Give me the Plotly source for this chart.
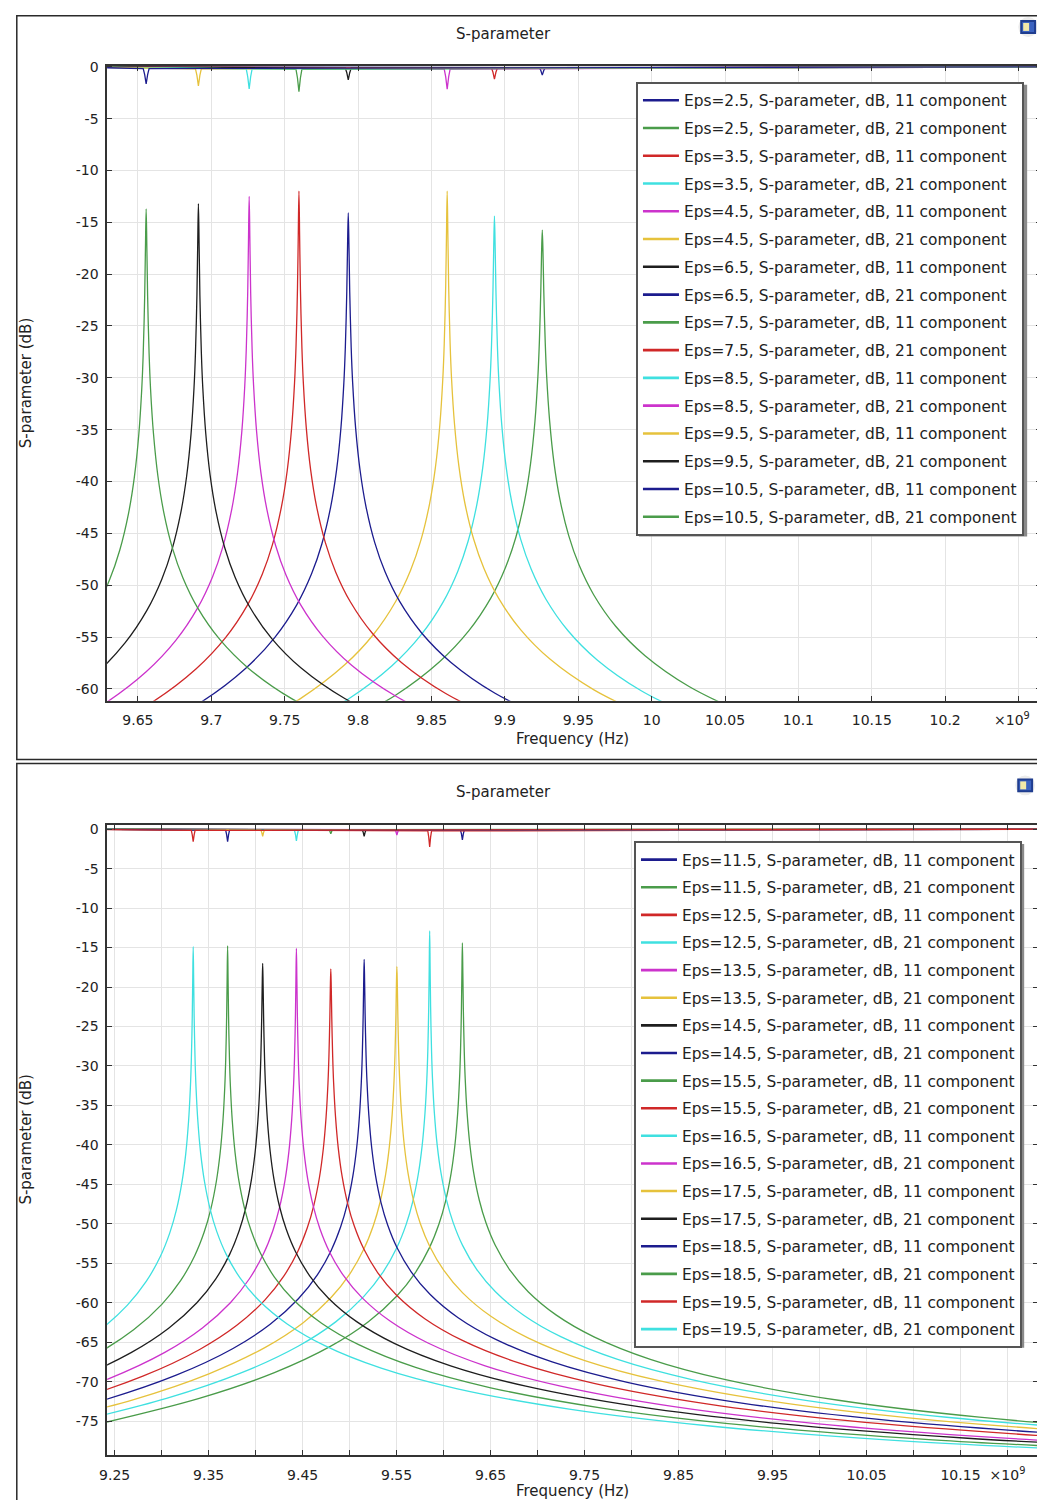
import plotly.graph_objects as go

# ---------------- colours (COMSOL default cycle) ----------------
CYCLE = ["#1c1c8e", "#4a9c4a", "#d02828", "#3fe0e0", "#cc33cc", "#e6c23c", "#1e1e1e"]

# ---------------- top panel data (frequency in GHz, i.e. x10^9 Hz) ----------------
TOP_EPS = ["2.5", "3.5", "4.5", "6.5", "7.5", "8.5", "9.5", "10.5"]
TOP_RESONANCE_GHZ = [9.9255, 9.8929, 9.8607, 9.7933, 9.7597, 9.7258, 9.6912, 9.6556]
TOP_SWEEP_GHZ = [9.60, 10.30]
TOP_DETUNING_GHZ = [-0.14, -0.1, -0.07, -0.05, -0.035, -0.025, -0.018, -0.012, -0.008, -0.005,
                    -0.003, -0.002, -0.001, -0.0005, 0, 0.0005, 0.001, 0.002, 0.003,
                    0.005, 0.008, 0.012, 0.018, 0.025, 0.035, 0.05, 0.07, 0.1, 0.14]

S21_TOP_EPS2_5 = [-63.70, -60.61, -57.38, -54.38, -51.22, -48.26, -45.38, -41.82, -38.28, -34.19, -29.90, -26.58, -21.52, -18.04, -15.75, -18.04, -21.52, -26.58, -29.90, -34.15, -38.22, -41.72, -45.22, -48.04, -50.92, -53.96, -56.80, -59.77, -62.52]
S21_TOP_EPS3_5 = [-64.11, -61.02, -57.79, -54.79, -51.63, -48.67, -45.79, -42.23, -38.69, -34.60, -30.25, -26.87, -21.53, -17.50, -14.4, -17.50, -21.53, -26.87, -30.25, -34.56, -38.63, -42.13, -45.63, -48.45, -51.33, -54.37, -57.21, -60.18, -62.93]
S21_TOP_EPS4_5 = [-64.03, -60.94, -57.71, -54.71, -51.55, -48.59, -45.71, -42.15, -38.61, -34.52, -30.13, -26.69, -21.09, -16.44, -12.0, -16.44, -21.09, -26.69, -30.13, -34.48, -38.55, -42.05, -45.55, -48.37, -51.25, -54.29, -57.13, -60.10, -62.85]
S21_TOP_EPS6_5 = [-64.35, -61.26, -58.03, -55.03, -51.87, -48.91, -46.03, -42.47, -38.93, -34.84, -30.49, -27.09, -21.68, -17.49, -14.1, -17.49, -21.68, -27.09, -30.49, -34.80, -38.87, -42.37, -45.87, -48.69, -51.57, -54.61, -57.45, -60.42, -63.17]
S21_TOP_EPS7_5 = [-64.38, -61.29, -58.06, -55.06, -51.90, -48.94, -46.06, -42.50, -38.96, -34.87, -30.48, -27.03, -21.40, -16.67, -12.0, -16.67, -21.40, -27.03, -30.48, -34.83, -38.90, -42.40, -45.90, -48.72, -51.60, -54.64, -57.48, -60.45, -63.20]
S21_TOP_EPS8_5 = [-64.65, -61.56, -58.33, -55.33, -52.17, -49.21, -46.33, -42.77, -39.23, -35.14, -30.74, -27.30, -21.69, -17.01, -12.5, -17.01, -21.69, -27.30, -30.74, -35.10, -39.17, -42.67, -46.17, -48.99, -51.87, -54.91, -57.75, -60.72, -63.47]
S21_TOP_EPS9_5 = [-64.89, -61.80, -58.57, -55.57, -52.41, -49.45, -46.57, -43.01, -39.47, -35.38, -30.99, -27.56, -21.99, -17.42, -13.2, -17.42, -21.99, -27.56, -30.99, -35.34, -39.41, -42.91, -46.41, -49.23, -52.11, -55.15, -57.99, -60.96, -63.71]
S21_TOP_EPS10_5 = [-64.95, -61.86, -58.63, -55.63, -52.47, -49.51, -46.63, -43.07, -39.53, -35.44, -31.07, -27.64, -22.12, -17.66, -13.7, -17.66, -22.12, -27.64, -31.07, -35.40, -39.47, -42.97, -46.47, -49.29, -52.17, -55.21, -58.05, -61.02, -63.77]
TOP_S21 = [S21_TOP_EPS2_5, S21_TOP_EPS3_5, S21_TOP_EPS4_5, S21_TOP_EPS6_5,
           S21_TOP_EPS7_5, S21_TOP_EPS8_5, S21_TOP_EPS9_5, S21_TOP_EPS10_5]

S11_DIP_DETUNING_GHZ = [-0.002, -0.001, 0, 0.001, 0.002]
S11_TOP_DIPS = [
    [-0.08, -0.36, -0.80, -0.36, -0.08],   # 2.5
    [-0.12, -0.53, -1.18, -0.53, -0.12],   # 3.5
    [-0.22, -0.98, -2.17, -0.98, -0.22],   # 4.5
    [-0.13, -0.57, -1.27, -0.57, -0.13],   # 6.5
    [-0.24, -1.08, -2.39, -1.08, -0.24],   # 7.5
    [-0.21, -0.96, -2.13, -0.96, -0.21],   # 8.5
    [-0.19, -0.83, -1.85, -0.83, -0.19],   # 9.5
    [-0.17, -0.75, -1.66, -0.75, -0.17],   # 10.5
]

# ---------------- bottom panel data ----------------
BOT_EPS = ["11.5", "12.5", "13.5", "14.5", "15.5", "16.5", "17.5", "18.5", "19.5"]
BOT_RESONANCE_GHZ = [9.620, 9.5852, 9.5503, 9.5155, 9.480, 9.4434, 9.4075, 9.3702, 9.3336]
BOT_SWEEP_GHZ = [9.20, 10.30]
BOT_DETUNING_GHZ = [-0.4, -0.28, -0.2, -0.14, -0.1, -0.07, -0.05, -0.035, -0.025, -0.018, -0.012, -0.008, -0.005,
                    -0.003, -0.002, -0.001, -0.0005, 0, 0.0005, 0.001, 0.002, 0.003,
                    0.005, 0.008, 0.012, 0.018, 0.025, 0.035, 0.05, 0.07, 0.1, 0.14, 0.2, 0.28, 0.4, 0.55, 0.75, 0.95]

S21_BOT_EPS11_5 = [-75.70, -72.10, -68.84, -65.49, -62.40, -59.17, -56.17, -53.01, -50.05, -47.17, -43.61, -40.07, -35.98, -31.60, -28.18, -22.68, -18.26, -14.4, -18.26, -22.68, -28.18, -31.60, -35.94, -40.01, -43.51, -47.01, -49.83, -52.71, -55.75, -58.59, -61.56, -64.31, -67.16, -69.74, -72.34, -74.48, -76.33, -77.54]
S21_BOT_EPS12_5 = [-75.71, -72.11, -68.85, -65.50, -62.41, -59.18, -56.18, -53.02, -50.06, -47.18, -43.62, -40.08, -35.99, -31.60, -28.15, -22.50, -17.71, -12.9, -17.71, -22.50, -28.15, -31.60, -35.95, -40.02, -43.52, -47.02, -49.84, -52.72, -55.76, -58.60, -61.57, -64.32, -67.17, -69.75, -72.35, -74.49, -76.34, -77.55]
S21_BOT_EPS13_5 = [-75.85, -72.25, -68.99, -65.64, -62.55, -59.32, -56.32, -53.16, -50.20, -47.32, -43.76, -40.22, -36.13, -31.83, -28.50, -23.39, -19.81, -17.4, -19.81, -23.39, -28.50, -31.83, -36.09, -40.16, -43.66, -47.16, -49.98, -52.86, -55.90, -58.74, -61.71, -64.46, -67.31, -69.89, -72.49, -74.63, -76.48, -77.69]
S21_BOT_EPS14_5 = [-76.02, -72.42, -69.16, -65.81, -62.72, -59.49, -56.49, -53.33, -50.37, -47.49, -43.93, -40.39, -36.30, -31.97, -28.60, -23.31, -19.40, -16.5, -19.40, -23.31, -28.60, -31.97, -36.26, -40.33, -43.83, -47.33, -50.15, -53.03, -56.07, -58.91, -61.88, -64.63, -67.48, -70.06, -72.66, -74.80, -76.65, -77.86]
S21_BOT_EPS15_5 = [-76.15, -72.55, -69.29, -65.94, -62.85, -59.62, -56.62, -53.46, -50.50, -47.62, -44.06, -40.52, -36.43, -32.13, -28.80, -23.69, -20.11, -17.7, -20.11, -23.69, -28.80, -32.13, -36.39, -40.46, -43.96, -47.46, -50.28, -53.16, -56.20, -59.04, -62.01, -64.76, -67.61, -70.19, -72.79, -74.93, -76.78, -77.99]
S21_BOT_EPS16_5 = [-76.48, -72.88, -69.62, -66.27, -63.18, -59.95, -56.95, -53.79, -50.83, -47.95, -44.39, -40.85, -36.76, -32.38, -28.96, -23.45, -19.01, -15.1, -19.01, -23.45, -28.96, -32.38, -36.72, -40.79, -44.29, -47.79, -50.61, -53.49, -56.53, -59.37, -62.34, -65.09, -67.94, -70.52, -73.12, -75.26, -77.11, -78.32]
S21_BOT_EPS17_5 = [-76.52, -72.92, -69.66, -66.31, -63.22, -59.99, -56.99, -53.83, -50.87, -47.99, -44.43, -40.89, -36.80, -32.47, -29.10, -23.81, -19.90, -17.0, -19.90, -23.81, -29.10, -32.47, -36.76, -40.83, -44.33, -47.83, -50.65, -53.53, -56.57, -59.41, -62.38, -65.13, -67.98, -70.56, -73.16, -75.30, -77.15, -78.36]
S21_BOT_EPS18_5 = [-76.72, -73.12, -69.86, -66.51, -63.42, -60.19, -57.19, -54.03, -51.07, -48.19, -44.63, -41.09, -37.00, -32.62, -29.18, -23.61, -19.04, -14.8, -19.04, -23.61, -29.18, -32.62, -36.96, -41.03, -44.53, -48.03, -50.85, -53.73, -56.77, -59.61, -62.58, -65.33, -68.18, -70.76, -73.36, -75.50, -77.35, -78.56]
S21_BOT_EPS19_5 = [-76.82, -73.22, -69.96, -66.61, -63.52, -60.29, -57.29, -54.13, -51.17, -48.29, -44.73, -41.19, -37.10, -32.72, -29.28, -23.71, -19.14, -14.9, -19.14, -23.71, -29.28, -32.72, -37.06, -41.13, -44.63, -48.13, -50.95, -53.83, -56.87, -59.71, -62.68, -65.43, -68.28, -70.86, -73.46, -75.60, -77.45, -78.66]
BOT_S21 = [S21_BOT_EPS11_5, S21_BOT_EPS12_5, S21_BOT_EPS13_5, S21_BOT_EPS14_5, S21_BOT_EPS15_5,
           S21_BOT_EPS16_5, S21_BOT_EPS17_5, S21_BOT_EPS18_5, S21_BOT_EPS19_5]

S11_BOT_DIPS = [
    [-0.14, -0.61, -1.35, -0.61, -0.14],   # 11.5
    [-0.23, -1.01, -2.25, -1.01, -0.23],   # 12.5
    [-0.08, -0.34, -0.75, -0.34, -0.08],   # 13.5
    [-0.09, -0.41, -0.90, -0.41, -0.09],   # 14.5
    [-0.06, -0.27, -0.60, -0.27, -0.06],   # 15.5
    [-0.15, -0.68, -1.50, -0.68, -0.15],   # 16.5
    [-0.09, -0.41, -0.90, -0.41, -0.09],   # 17.5
    [-0.16, -0.72, -1.60, -0.72, -0.16],   # 18.5
    [-0.16, -0.72, -1.60, -0.72, -0.16],   # 19.5
]

# ---------------- axis ticks ----------------
TOP_XTICKS = [9.65, 9.7, 9.75, 9.8, 9.85, 9.9, 9.95, 10.0, 10.05, 10.1, 10.15, 10.2, 10.25]
TOP_XTICK_TEXT = ["9.65", "9.7", "9.75", "9.8", "9.85", "9.9", "9.95", "10", "10.05", "10.1",
                  "10.15", "10.2", "\u00d710<sup>9</sup>\u00a0\u00a0\u00a0"]
TOP_YTICKS = [0, -5, -10, -15, -20, -25, -30, -35, -40, -45, -50, -55, -60]
BOT_XTICKS = [9.25, 9.3, 9.35, 9.4, 9.45, 9.5, 9.55, 9.6, 9.65, 9.7, 9.75, 9.8, 9.85, 9.9,
              9.95, 10.0, 10.05, 10.1, 10.15, 10.2]
BOT_XTICK_TEXT = ["9.25", "", "9.35", "", "9.45", "", "9.55", "", "9.65", "", "9.75", "",
                  "9.85", "", "9.95", "", "10.05", "", "10.15", "\u00d710<sup>9</sup>"]
BOT_YTICKS = [0, -5, -10, -15, -20, -25, -30, -35, -40, -45, -50, -55, -60, -65, -70, -75]

# The page body keeps its default 8 px margin, so the figure is 8 px smaller than
# the 1045x1500 window and every position below is given in window pixels.
PAGE_MARGIN = 8
W, H = 1045 - PAGE_MARGIN, 1500 - PAGE_MARGIN
FONT = "DejaVu Sans"
TXT = "#222222"


def px(x):
    return (x - PAGE_MARGIN) / W


def py(y):
    return 1 - (y - PAGE_MARGIN) / H


fig = go.Figure()

idx = 0


def add_curve(x, y, name, color, xaxis, yaxis, legend, spline):
    grp = f"{legend}_{name}"
    fig.add_trace(go.Scatter(x=x, y=y, mode="lines",
                             line=dict(color=color, width=1.3,
                                       shape="spline" if spline else "linear",
                                       smoothing=1.0 if spline else None),
                             name=name, xaxis=xaxis, yaxis=yaxis, legend=legend,
                             legendgroup=grp, showlegend=False))
    # legend entry (thicker key line, as in the original legend)
    fig.add_trace(go.Scatter(x=[None], y=[None], mode="lines",
                             line=dict(color=color, width=2.6), name=name,
                             xaxis=xaxis, yaxis=yaxis, legend=legend, legendgroup=grp,
                             showlegend=True, hoverinfo="skip"))


def add_panel(eps_list, res, sweep, det, s21_list, dips, xaxis, yaxis, legend):
    global idx
    for e, f0, s21, dip in zip(eps_list, res, s21_list, dips):
        xs = [sweep[0]] + [f0 + d for d in S11_DIP_DETUNING_GHZ] + [sweep[1]]
        ys = [0.0] + dip + [0.0]
        add_curve(xs, ys, f"Eps={e}, S-parameter, dB, 11 component", CYCLE[idx % 7],
                  xaxis, yaxis, legend, False)
        idx += 1
        add_curve([f0 + d for d in det], s21, f"Eps={e}, S-parameter, dB, 21 component",
                  CYCLE[idx % 7], xaxis, yaxis, legend, True)
        idx += 1


add_panel(TOP_EPS, TOP_RESONANCE_GHZ, TOP_SWEEP_GHZ, TOP_DETUNING_GHZ, TOP_S21, S11_TOP_DIPS,
          "x", "y", "legend")
idx = 0
add_panel(BOT_EPS, BOT_RESONANCE_GHZ, BOT_SWEEP_GHZ, BOT_DETUNING_GHZ, BOT_S21, S11_BOT_DIPS,
          "x2", "y2", "legend2")

axis_common = dict(
    showline=True, linecolor="#333333", linewidth=1.5, mirror="ticks",
    ticks="inside", ticklen=5, tickcolor="#333333", tickwidth=1,
    showgrid=True, gridcolor="#e4e4e4", gridwidth=1, zeroline=False,
    tickfont=dict(family=FONT, size=14, color=TXT), tickmode="array",
)

legend_common = dict(
    bgcolor="white", bordercolor="#555555", borderwidth=2,
    font=dict(family=FONT, size=15.4, color=TXT), xanchor="left", yanchor="top",
    traceorder="grouped", itemwidth=36,
)

fig.update_layout(
    width=W, height=H, margin=dict(l=0, r=0, t=0, b=0),
    paper_bgcolor="white", plot_bgcolor="white", showlegend=True,
    xaxis=dict(domain=[px(100), px(1043)], range=[9.629, 10.2653], anchor="y",
               tickvals=TOP_XTICKS, ticktext=TOP_XTICK_TEXT, ticklabelstandoff=6, **axis_common),
    yaxis=dict(domain=[py(697), py(59)], range=[-61.15, 0.1], anchor="x",
               tickvals=TOP_YTICKS, ticktext=[str(v) for v in TOP_YTICKS], ticklabelstandoff=4,
               **axis_common),
    xaxis2=dict(domain=[px(100), px(1040)], range=[9.242, 10.2325], anchor="y2",
                tickvals=BOT_XTICKS, ticktext=BOT_XTICK_TEXT, ticklabelstandoff=6, **axis_common),
    yaxis2=dict(domain=[py(1455), py(822)], range=[-79.3, 0.5], anchor="x2",
                tickvals=BOT_YTICKS, ticktext=[str(v) for v in BOT_YTICKS], ticklabelstandoff=4,
                **axis_common),
    legend=dict(x=px(634), y=py(75), tracegroupgap=4.75, **legend_common),
    legend2=dict(x=px(632), y=py(838), tracegroupgap=4.6, **legend_common),
)

shapes = []
# panel frames
for (y0, y1) in [(8.8, 756), (760, 1510)]:
    shapes.append(dict(type="rect", xref="paper", yref="paper", x0=px(8.8), x1=px(1060),
                       y0=py(y1), y1=py(y0), line=dict(color="#2a2a2a", width=1.5),
                       fillcolor="rgba(0,0,0,0)", layer="below"))
# legend shadows
for (x0, y0, x1, y1) in [(637, 78, 1029, 532), (635, 841, 1026, 1347)]:
    shapes.append(dict(type="rect", xref="paper", yref="paper", x0=px(x0), x1=px(x1),
                       y0=py(y1), y1=py(y0), line=dict(width=0), fillcolor="#8a8a8a",
                       layer="above"))
# little logo icons
for (cx, cy) in [(1030, 20), (1027, 782)]:
    shapes.append(dict(type="circle", xref="paper", yref="paper", x0=px(cx - 10), x1=px(cx + 10),
                       y0=py(cy + 10), y1=py(cy - 10), line=dict(width=0), fillcolor="#ececec"))
    shapes.append(dict(type="rect", xref="paper", yref="paper", x0=px(cx - 7), x1=px(cx + 7),
                       y0=py(cy + 6), y1=py(cy - 6), line=dict(color="#1f3d8f", width=2),
                       fillcolor="#3b62c0"))
    shapes.append(dict(type="rect", xref="paper", yref="paper", x0=px(cx - 5), x1=px(cx + 1),
                       y0=py(cy + 4), y1=py(cy - 4), line=dict(width=0), fillcolor="#f3e9a8"))
fig.update_layout(shapes=shapes)

ann = []
for y in (27, 789):
    ann.append(dict(text="S-parameter", x=px(500), y=py(y)))
for y in (378, 1138):
    ann.append(dict(text="S-parameter (dB)", x=px(18), y=py(y), textangle=-90))
for y in (735, 1491):
    ann.append(dict(text="Frequency (Hz)", x=px(570), y=py(y)))
for a in ann:
    a.update(xref="paper", yref="paper", showarrow=False, xanchor="center", yanchor="middle",
             font=dict(family=FONT, size=15, color=TXT))
fig.update_layout(annotations=ann)

fig.write_html("out.html", config={"displayModeBar": False})
